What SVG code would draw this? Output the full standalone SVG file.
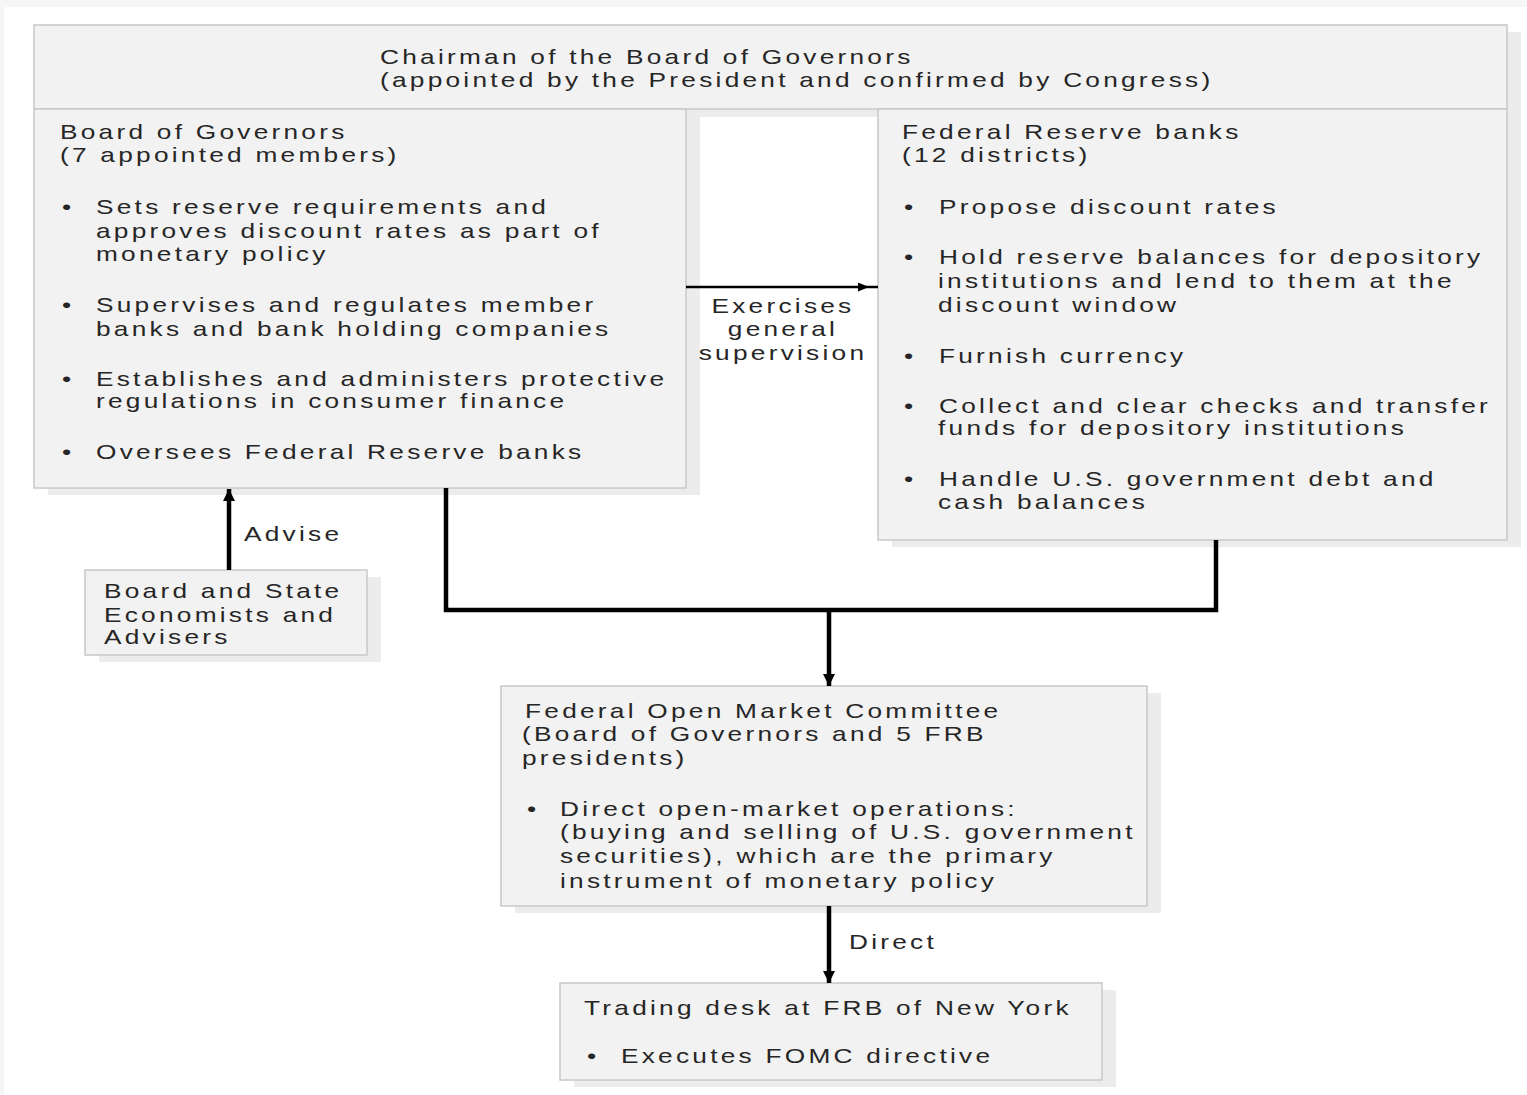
<svg xmlns="http://www.w3.org/2000/svg" width="1527" height="1095" viewBox="0 0 1527 1095">
  <style>
    .shadow { fill: #ececec; }
    .box { fill: #f2f2f2; stroke: #c8c8c8; stroke-width: 1.5; }
    .t { font-family: "Liberation Sans", Arial, sans-serif; font-size: 21px; fill: #262626; letter-spacing: 2.6px; }
    .mid { text-anchor: middle; }
    .thick { fill: none; stroke: #000; stroke-width: 4.5; }
    .thin { fill: none; stroke: #000; stroke-width: 2.5; }
  </style>
  <defs>
    <marker id="arrowBig" viewBox="0 0 12 12" refX="12" refY="6" markerWidth="12" markerHeight="12" markerUnits="userSpaceOnUse" orient="auto">
      <path d="M0,0 L12,6 L0,12 z" fill="#000"/>
    </marker>
    <marker id="arrowSmall" viewBox="0 0 11 9" refX="11" refY="4.5" markerWidth="11" markerHeight="9" markerUnits="userSpaceOnUse" orient="auto">
      <path d="M0,0 L11,4.5 L0,9 z" fill="#000"/>
    </marker>
  </defs>

  <rect x="0" y="0" width="1527" height="1095" fill="#ffffff"/>
  <rect x="0" y="0" width="1527" height="7" fill="#f6f6f6"/>
  <rect x="0" y="0" width="4" height="1095" fill="#f6f6f6"/>

  <!-- shadows -->
  <g id="shadows">
    <rect class="shadow" x="48" y="32" width="1473" height="85"/>
    <rect class="shadow" x="48" y="116" width="652" height="379"/>
    <rect class="shadow" x="892" y="116" width="629" height="431"/>
    <rect class="shadow" x="99" y="577" width="282" height="85"/>
    <rect class="shadow" x="515" y="693" width="646" height="220"/>
    <rect class="shadow" x="574" y="990" width="542" height="97"/>
  </g>

  <g id="chairman">
    <rect class="box" x="34" y="25" width="1473" height="84"/>
    <g transform="scale(1.25,1)">
      <text class="t" x="304" y="64">Chairman of the Board of Governors</text>
      <text class="t" x="304" y="87">(appointed by the President and confirmed by Congress)</text>
    </g>
  </g>

  <g id="board-of-governors">
    <rect class="box" x="34" y="109" width="652" height="379"/>
    <g transform="scale(1.25,1)">
      <text class="t" x="48" y="139">Board of Governors</text>
      <text class="t" x="48" y="162">(7 appointed members)</text>
      <text class="t" x="49.6" y="214">•</text>
      <text class="t" x="76.8" y="214">Sets reserve requirements and</text>
      <text class="t" x="76.8" y="238">approves discount rates as part of</text>
      <text class="t" x="76.8" y="261">monetary policy</text>
      <text class="t" x="49.6" y="312">•</text>
      <text class="t" x="76.8" y="312">Supervises and regulates member</text>
      <text class="t" x="76.8" y="336">banks and bank holding companies</text>
      <text class="t" x="49.6" y="386">•</text>
      <text class="t" x="76.8" y="386">Establishes and administers protective</text>
      <text class="t" x="76.8" y="408">regulations in consumer finance</text>
      <text class="t" x="49.6" y="459">•</text>
      <text class="t" x="76.8" y="459">Oversees Federal Reserve banks</text>
    </g>
  </g>

  <g id="federal-reserve-banks">
    <rect class="box" x="878" y="109" width="629" height="431"/>
    <g transform="scale(1.25,1)">
      <text class="t" x="721.6" y="139">Federal Reserve banks</text>
      <text class="t" x="721.6" y="162">(12 districts)</text>
      <text class="t" x="723.2" y="214">•</text>
      <text class="t" x="751.2" y="214">Propose discount rates</text>
      <text class="t" x="723.2" y="264">•</text>
      <text class="t" x="751.2" y="264">Hold reserve balances for depository</text>
      <text class="t" x="750.4" y="288">institutions and lend to them at the</text>
      <text class="t" x="750.4" y="312">discount window</text>
      <text class="t" x="723.2" y="363">•</text>
      <text class="t" x="751.2" y="363">Furnish currency</text>
      <text class="t" x="723.2" y="413">•</text>
      <text class="t" x="751.2" y="413">Collect and clear checks and transfer</text>
      <text class="t" x="750.4" y="435">funds for depository institutions</text>
      <text class="t" x="723.2" y="486">•</text>
      <text class="t" x="751.2" y="486">Handle U.S. government debt and</text>
      <text class="t" x="750.4" y="509">cash balances</text>
    </g>
  </g>

  <g id="economists">
    <rect class="box" x="85" y="570" width="282" height="85"/>
    <g transform="scale(1.25,1)">
      <text class="t" x="83.2" y="598">Board and State</text>
      <text class="t" x="83.2" y="622">Economists and</text>
      <text class="t" x="83.2" y="644">Advisers</text>
    </g>
  </g>

  <g id="fomc">
    <rect class="box" x="501" y="686" width="646" height="220"/>
    <g transform="scale(1.25,1)">
      <text class="t" x="420" y="718">Federal Open Market Committee</text>
      <text class="t" x="417.6" y="741">(Board of Governors and 5 FRB</text>
      <text class="t" x="417.6" y="765">presidents)</text>
      <text class="t" x="421.6" y="816">•</text>
      <text class="t" x="448" y="816">Direct open-market operations:</text>
      <text class="t" x="448" y="839">(buying and selling of U.S. government</text>
      <text class="t" x="448" y="863">securities), which are the primary</text>
      <text class="t" x="448" y="888">instrument of monetary policy</text>
    </g>
  </g>

  <g id="trading-desk">
    <rect class="box" x="560" y="983" width="542" height="97"/>
    <g transform="scale(1.25,1)">
      <text class="t" x="467.2" y="1015">Trading desk at FRB of New York</text>
      <text class="t" x="469.6" y="1063">•</text>
      <text class="t" x="496.8" y="1063">Executes FOMC directive</text>
    </g>
  </g>

  <g id="connectors">
    <path class="thin" d="M686,287 H869 H878" marker-mid="url(#arrowSmall)"/>
    <path class="thick" d="M229,570 V489" marker-end="url(#arrowBig)"/>
    <path class="thick" d="M446,488 V610 H1216 V540"/>
    <path class="thick" d="M829,610 V686" marker-end="url(#arrowBig)"/>
    <path class="thick" d="M829,906 V983" marker-end="url(#arrowBig)"/>
    <g transform="scale(1.25,1)">
      <text class="t mid" x="626.4" y="313">Exercises</text>
      <text class="t mid" x="626.4" y="336">general</text>
      <text class="t mid" x="626.4" y="360">supervision</text>
      <text class="t" x="195.2" y="541">Advise</text>
      <text class="t" x="679.2" y="949">Direct</text>
    </g>
  </g>
</svg>
